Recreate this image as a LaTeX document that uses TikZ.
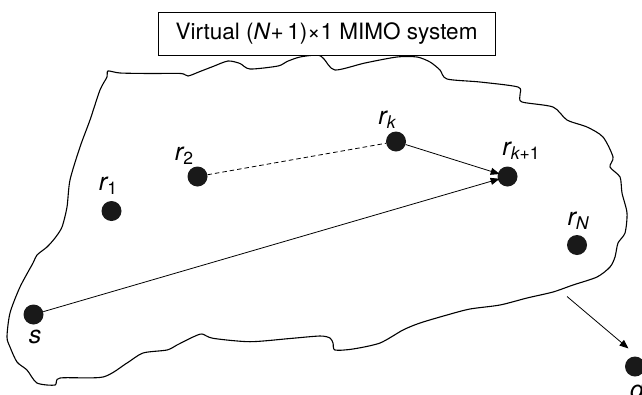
\documentclass[tikz,border=0pt]{standalone}
\usepackage{fontspec}
\setmainfont{TeX Gyre Heros}
\usetikzlibrary{arrows.meta}
\tikzset{
  dot/.style={circle,fill=black!90,inner sep=0pt,minimum size=20pt},
  lbl/.style={font=\fontsize{25}{26}\selectfont\itshape,inner sep=0pt},
  conn/.style={line width=0.8pt},
  arr/.style={conn,-{Triangle[length=9pt,width=7pt]}},
  blob/.style={line width=1.1pt},
  titlebox/.style={draw,line width=1pt,fill=white,minimum width=337pt,minimum height=43pt,font=\fontsize{22.5}{24}\selectfont}
}
\newcommand{\sub}[1]{\raisebox{-0.3ex}{\fontsize{17.5}{18}\selectfont #1}}
\begin{document}
\begin{tikzpicture}[x=1pt,y=-1pt]
\useasboundingbox (0,0) rectangle (642,394);
\draw[blob] plot[smooth cycle,tension=0.45] coordinates {
(108,71) (120,73) (150,73.5) (181,73.5) (188,76) (200,71.5) (213,66.5) (228,61) (240,63.5) (250,69) (278,66) (287,61.5) (300,57) (318,55)
(324,59) (335,70) (365,63) (397,57) (417,57) (430,62) (440,70) (447,79) (480,82) (518,87) (520,95) (522,102) (553,107) (567,120) (587,127) (603,137) (613,157) (610,167) (620,177) (622,193) (627,213) (625,233) (618,243) (615,257) (610,267) (597,277) (573,285) (553,292) (527,298) (500,305) (470,309) (447,315) (420,323) (403,330) (380,343) (353,349) (335,350) (333,343) (330,338) (320,336) (290,338.5) (250,341.7) (213,338.3) (202,334) (193,337) (177,345) (167,350) (143,353) (127,363) (103,377) (60,378) (55,385) (37,383) (27,370) (17,362) (10,347) (7,337) (10,313) (20,287) (33,263) (37,255) (47,247) (55,238) (62,227) (67,207) (70,180) (80,147) (90,120) (100,90) (107,77)};
\node[titlebox] (title) at (326.5,33.5) {Virtual (\textit{N}+\,1)×1 MIMO system};
\node[dot] (r1) at (111.5,211) {};
\node[dot] (r2) at (197.5,176.5) {};
\node[dot] (rk) at (396,141.5) {};
\node[dot] (rk1) at (507.5,176.5) {};
\node[dot] (rN) at (577,245) {};
\node[dot] (s) at (33.5,314.5) {};
\node[dot] (d) at (635,366.5) {};
\node[lbl] (lr1) at (108,186) {r\sub{\upshape 1}};
\node[lbl] (lr2) at (184,156) {r\sub{\upshape 2}};
\node[lbl] (lrk) at (387,120) {r\sub{k}};
\node[lbl] (lrk1) at (521,151) {r\sub{k\upshape +1}};
\node[lbl] (lrN) at (578,221) {r\sub{N}};
\node[lbl] (ls) at (35,337) {s};
\node[lbl] (ld) at (637,390) {d};
\coordinate (a0) at (567,296.5);
\coordinate (a1) at (628.5,348.5);
\draw[conn,dashed,dash pattern=on 4.5pt off 3pt] (r2) -- (rk);
\draw[arr,shorten >=-2pt] (rk) -- (rk1);
\draw[arr,shorten >=-2pt] (s) -- (rk1);
\draw[arr] (a0) -- (a1);
\end{tikzpicture}
\end{document}
